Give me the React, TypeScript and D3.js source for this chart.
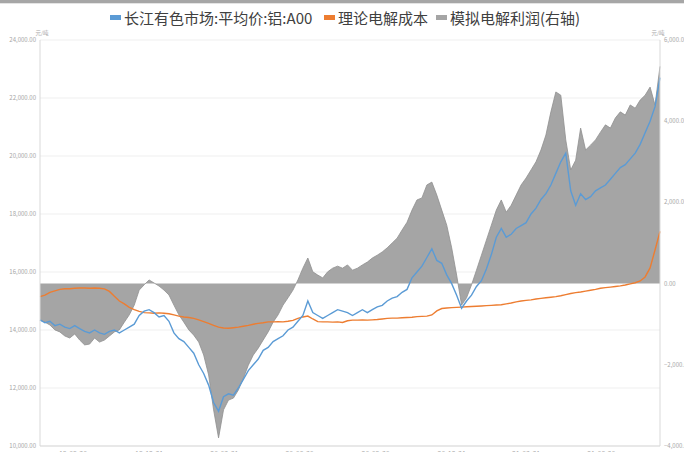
import React from 'react';
import * as d3 from 'd3';

const START_DATE = '2019-08-21';
const STEP_DAYS = 6;

// 长江有色市场:平均价:铝:A00 (元/吨)
const price = [
  14350, 14250, 14300, 14150, 14200, 14100, 14050, 14150, 14050, 13950,
  13900, 14000, 13900, 13850, 13950, 14000, 13900, 14000, 14100, 14200,
  14500, 14650, 14700, 14600, 14450, 14500, 14300, 13900, 13700, 13600,
  13400, 13200, 12800, 12500, 12100, 11500, 11200, 11700, 11800, 11750,
  12000, 12300, 12600, 12800, 13000, 13300, 13400, 13600, 13700, 13800,
  14000, 14100, 14300, 14500, 15000, 14600, 14500, 14400, 14500, 14600,
  14700, 14650, 14600, 14500, 14600, 14700, 14600, 14700, 14800, 14850,
  15000, 15100, 15150, 15300, 15400, 15800, 16000, 16200, 16500, 16800,
  16400, 16300, 15900, 15600, 15200, 14750, 15000, 15200, 15500, 15700,
  16100, 16600, 17200, 17500, 17200, 17300, 17500, 17600, 17700, 18000,
  18200, 18500, 18700, 19000, 19400, 19800, 20100, 18800, 18300, 18700,
  18500, 18600, 18800, 18900, 19000, 19200, 19400, 19600, 19700, 19900,
  20100, 20400, 20800, 21200, 21700, 22700,
];

// 理论电解成本 (元/吨)
const cost = [
  15150, 15200, 15300, 15350, 15400, 15420, 15420, 15440, 15450, 15450,
  15440, 15450, 15440, 15420, 15330, 15160, 15000, 14900, 14780, 14700,
  14640, 14600, 14590, 14580, 14590, 14580, 14560, 14520, 14480, 14450,
  14430, 14400, 14350, 14290, 14230, 14160, 14100, 14070, 14060, 14080,
  14100, 14130, 14160, 14200, 14230, 14250, 14280, 14280, 14290, 14280,
  14300, 14330, 14400, 14450, 14480, 14380, 14290, 14280, 14280, 14270,
  14280, 14260, 14320, 14340, 14340, 14350, 14340, 14350, 14360, 14380,
  14400, 14410, 14410, 14420, 14430, 14440, 14460, 14470, 14480, 14520,
  14660, 14740, 14760, 14770, 14780, 14790, 14800, 14810, 14820, 14830,
  14840, 14850, 14860, 14870, 14900, 14930, 14970, 15000, 15020, 15040,
  15070, 15090, 15110, 15130, 15150, 15180, 15220, 15260, 15290, 15310,
  15340, 15370, 15400, 15440, 15460, 15480, 15500, 15520, 15550, 15590,
  15630, 15690, 15830, 16140, 16760, 17400,
];

// 模拟电解利润(右轴) (元/吨)
const profit = [
  -900, -950, -1020, -1140, -1190, -1290, -1340, -1240, -1390, -1510,
  -1490, -1340, -1440, -1390, -1290, -1190, -1140, -950, -770, -530,
  -160, -30, 90, 15, -60, -160, -280, -530, -770, -950,
  -1140, -1270, -1440, -1760, -2250, -3110, -3800, -3110, -2870, -2820,
  -2620, -2330, -2010, -1760, -1590, -1390, -1190, -950, -770, -530,
  -350, -160, 90, 380, 630, 290, 210, 140, 290, 380,
  430, 380, 460, 330, 380, 460, 530, 630, 700, 780,
  880, 1000, 1120, 1320, 1510, 1810, 2060, 2110, 2430, 2500,
  2180, 1810, 1440, 880, 210, -530, -350, -30, 330, 700,
  1070, 1440, 1810, 2060, 1760, 1930, 2180, 2430, 2600, 2800,
  3000, 3290, 3660, 4230, 4720, 4640, 3540, 2800, 3040, 3830,
  3290, 3410, 3540, 3730, 3910, 3830, 4080, 4230, 4150, 4400,
  4320, 4520, 4640, 4840, 4400, 5350,
];

const leftTicks = [10000, 12000, 14000, 16000, 18000, 20000, 22000, 24000];
const rightTicks = [-4000, -2000, 0, 2000, 4000, 6000];
const xTickLabels = ['19-09-30', '19-12-31', '20-03-31', '20-06-30', '20-09-30', '20-12-31', '21-03-31', '21-06-30'];

const legendItems = [
  { name: '长江有色市场:平均价:铝:A00', color: '#5b9bd5' },
  { name: '理论电解成本', color: '#ed7d31' },
  { name: '模拟电解利润(右轴)', color: '#a5a5a5' },
];

const W = 684;
const H = 452;
const L = 40;
const R = 660;
const T = 40;
const B = 446;

export default function App() {
  const start = d3.timeParse('%Y-%m-%d')(START_DATE) as Date;
  const dates = price.map((_, i) => d3.timeDay.offset(start, i * STEP_DAYS));
  const x = d3.scaleTime().domain([dates[0], dates[dates.length - 1]]).range([L, R]);
  const yL = d3.scaleLinear().domain([10000, 24000]).range([B, T]);
  const yR = d3.scaleLinear().domain([-4000, 6000]).range([B, T]);
  const fmt = d3.format(',.2f');
  const parseTick = d3.timeParse('%y-%m-%d');

  const area = d3
    .area<number>()
    .x((_, i) => x(dates[i]))
    .y0(yR(0))
    .y1((d) => yR(d));
  const lineProfit = d3
    .line<number>()
    .x((_, i) => x(dates[i]))
    .y((d) => yR(d));
  const lineL = d3
    .line<number>()
    .x((_, i) => x(dates[i]))
    .y((d) => yL(d));

  const font = '"Noto Sans CJK SC", "Noto Sans", sans-serif';
  const legendX = [110, 324, 436];

  return (
    <svg
      width={W}
      height={H}
      style={{ position: 'absolute', left: 0, top: 0, background: '#fff', fontFamily: font }}
    >
      <rect x={0} y={0} width={W} height={3.3} fill="#a6a6a6" />
      {/* gridlines */}
      {leftTicks.map((t) => (
        <line key={'g' + t} x1={L} x2={R} y1={yL(t)} y2={yL(t)} stroke="#efefef" strokeWidth={1} />
      ))}
      {/* profit area */}
      <path d={area(profit) || ''} fill="#a5a5a5" />
      <path d={lineProfit(profit) || ''} fill="none" stroke="#8f8f8f" strokeWidth={0.8} />
      {/* lines */}
      <path d={lineL(cost) || ''} fill="none" stroke="#ed7d31" strokeWidth={1.4} />
      <path d={lineL(price) || ''} fill="none" stroke="#5b9bd5" strokeWidth={1.4} />
      {/* axes */}
      <line x1={L} x2={L} y1={T} y2={B} stroke="#d9d9d9" />
      <line x1={R} x2={R} y1={T} y2={B} stroke="#d9d9d9" />
      <line x1={L} x2={R} y1={B} y2={B} stroke="#d9d9d9" />
      {leftTicks.map((t) => (
        <text key={'l' + t} x={L - 4} y={yL(t) + 2} fontSize={6} fill="#a6a6a6" textAnchor="end">
          {fmt(t)}
        </text>
      ))}
      {rightTicks.map((t) => (
        <text key={'r' + t} x={R + 4} y={yR(t) + 2} fontSize={6} fill="#a6a6a6" textAnchor="start">
          {fmt(t)}
        </text>
      ))}
      {xTickLabels.map((s) => (
        <text key={s} x={x(parseTick(s) as Date)} y={456} fontSize={7} fill="#a6a6a6" textAnchor="middle">
          {s}
        </text>
      ))}
      <text x={L + 2} y={35} fontSize={5.5} fill="#a6a6a6" textAnchor="middle">元/吨</text>
      <text x={R - 2} y={35} fontSize={5.5} fill="#a6a6a6" textAnchor="middle">元/吨</text>
      {/* legend */}
      {legendItems.map((it, i) => (
        <g key={it.name} transform={`translate(${legendX[i]},0)`}>
          <rect x={0} y={15} width={11} height={5} fill={it.color} />
          <text x={14} y={23.5} fontSize={15} fill="#404040">
            {it.name}
          </text>
        </g>
      ))}
    </svg>
  );
}
